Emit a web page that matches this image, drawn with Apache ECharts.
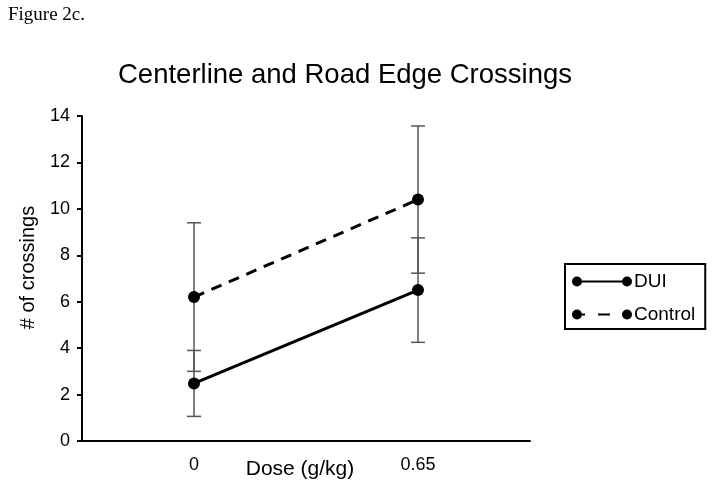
<!DOCTYPE html>
<html><head><meta charset="utf-8">
<script src="https://cdn.jsdelivr.net/npm/echarts@6/dist/echarts.min.js"></script>
<style>html,body{margin:0;padding:0;background:#fff}#c{width:714px;height:490px}</style>
</head><body><div id="c"></div>
<script>
const categories = ['0', '0.65'];
const duiValues = [2.48, 6.5];
const duiErrors = [1.42, 2.25];
const controlValues = [6.2, 10.4];
const controlErrors = [3.2, 3.17];
const seriesNames = ['DUI', 'Control'];

const errData = [];
categories.forEach((c, i) => {
  errData.push([i, duiValues[i] - duiErrors[i], duiValues[i] + duiErrors[i]]);
  errData.push([i, controlValues[i] - controlErrors[i], controlValues[i] + controlErrors[i]]);
});

const font = '"Liberation Sans", Arial, sans-serif';
const iconDUI = 'path://M0,5 A5,5 0 1,0 10,5 A5,5 0 1,0 0,5 Z M10,4 L50,4 L50,6 L10,6 Z M50,5 A5,5 0 1,0 60,5 A5,5 0 1,0 50,5 Z';
const iconCtrl = 'path://M0,5 A5,5 0 1,0 10,5 A5,5 0 1,0 0,5 Z M10,4 L13,4 L13,6 L10,6 Z M26,4 L38,4 L38,6 L26,6 Z M50,5 A5,5 0 1,0 60,5 A5,5 0 1,0 50,5 Z';

const chart = echarts.init(document.getElementById('c'), null, {renderer: 'canvas'});
chart.setOption({
  animation: false,
  backgroundColor: '#fff',
  title: {
    text: 'Centerline and Road Edge Crossings',
    left: 118, top: 61, padding: 0,
    textStyle: {fontFamily: font, fontSize: 27.5, fontWeight: 'normal', color: '#000'}
  },
  graphic: [{
    type: 'text', left: 8, top: 6,
    style: {text: 'Figure 2c.', font: '19px "Liberation Serif", "Times New Roman", serif', fill: '#000'}
  }],
  legend: {
    orient: 'vertical', left: 565, top: 264,
    padding: [8, 10, 5, 7], itemGap: 14,
    itemWidth: 60, itemHeight: 11,
    borderColor: '#000', borderWidth: 2,
    selectedMode: false,
    textStyle: {fontFamily: font, fontSize: 19, color: '#000', padding: [0, 0, 0, -3]},
    data: [
      {name: 'DUI', icon: iconDUI, itemStyle: {color: '#000'}},
      {name: 'Control', icon: iconCtrl, itemStyle: {color: '#000'}}
    ]
  },
  grid: {left: 82, right: 184, top: 116, bottom: 49, containLabel: false, outerBoundsMode: 'none'},
  xAxis: {
    type: 'category', data: categories, boundaryGap: true,
    name: 'Dose (g/kg)', nameLocation: 'middle', nameGap: 18, nameMoveOverlap: false,
    nameTextStyle: {fontFamily: font, fontSize: 21, color: '#000', padding: [0, 12, 0, 0]},
    axisLine: {lineStyle: {color: '#000', width: 2}},
    axisTick: {alignWithLabel: true, inside: true, length: 4, lineStyle: {color: '#000', width: 2}},
    axisLabel: {fontFamily: font, fontSize: 18, color: '#000', margin: 15}
  },
  yAxis: {
    type: 'value', min: 0, max: 14, interval: 2,
    name: '# of crossings', nameLocation: 'middle', nameGap: 44, nameRotate: 90,
    nameTextStyle: {fontFamily: font, fontSize: 20, color: '#000', padding: [0, 0, 0, 22]},
    axisLine: {show: true, lineStyle: {color: '#000', width: 2}},
    axisTick: {show: true, length: 5, lineStyle: {color: '#000', width: 2}},
    splitLine: {show: false},
    axisLabel: {fontFamily: font, fontSize: 18, color: '#000', margin: 12}
  },
  series: [
    {
      type: 'custom', name: 'err', z: 1, silent: true,
      renderItem: function (params, api) {
        const x = api.value(0);
        const lo = api.coord([x, api.value(1)]);
        const hi = api.coord([x, api.value(2)]);
        const w = 7;
        const st = {stroke: '#555', lineWidth: 1.5};
        return {type: 'group', children: [
          {type: 'line', shape: {x1: lo[0], y1: lo[1], x2: hi[0], y2: hi[1]}, style: st},
          {type: 'line', shape: {x1: lo[0] - w, y1: lo[1], x2: lo[0] + w, y2: lo[1]}, style: st},
          {type: 'line', shape: {x1: hi[0] - w, y1: hi[1], x2: hi[0] + w, y2: hi[1]}, style: st}
        ]};
      },
      data: errData
    },
    {
      type: 'line', name: seriesNames[0], data: duiValues, z: 3,
      symbol: 'circle', symbolSize: 12,
      itemStyle: {color: '#000'},
      lineStyle: {color: '#000', width: 3, type: 'solid'}
    },
    {
      type: 'line', name: seriesNames[1], data: controlValues, z: 3,
      symbol: 'circle', symbolSize: 12,
      itemStyle: {color: '#000'},
      lineStyle: {color: '#000', width: 3, type: [11, 8]}
    }
  ]
});
</script></body></html>
